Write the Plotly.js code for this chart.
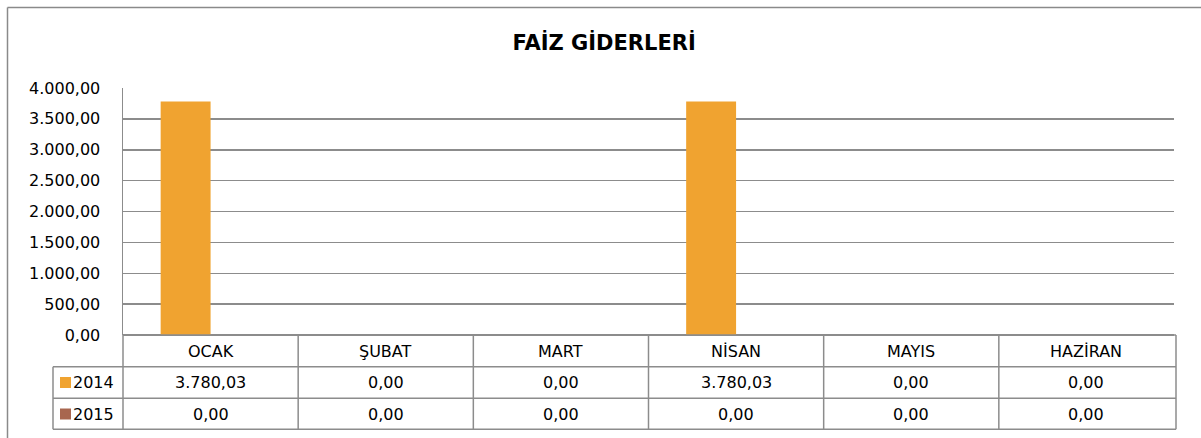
<!DOCTYPE html>
<html><head><meta charset="utf-8">
<script src="https://cdn.plot.ly/plotly-3.0.1.min.js"></script>
<style>html,body{margin:0;padding:0;background:#fff;}#chart{width:1201px;height:438px;}</style>
</head><body><div id="chart"></div>
<script>
const categories = ["OCAK", "ŞUBAT", "MART", "NİSAN", "MAYIS", "HAZİRAN"];
const seriesNames = ["2014", "2015"];
const values2014 = [3780.03, 0, 0, 3780.03, 0, 0];
const values2015 = [0, 0, 0, 0, 0, 0];
const colors = ["#F0A330", "#A8664F"];
const titleText = "FAİZ GİDERLERİ";

function fmt(v) {
  const parts = v.toFixed(2).split(".");
  parts[0] = parts[0].replace(/\B(?=(\d{3})+(?!\d))/g, ".");
  return parts[0] + "," + parts[1];
}

const W = 1201, H = 438, L = 123, R = 1174, T = 88, B = 335;
const xp = px => (px - L) / (R - L);
const yp = py => (B - py) / (B - T);
const gridCol = "#8c8c8c";
const font = "DejaVu Sans, Verdana, sans-serif";
const fs = 16;

const traces = [
  {type: "bar", name: seriesNames[0], x: categories, y: values2014, marker: {color: colors[0]}, hoverinfo: "none"},
  {type: "bar", name: seriesNames[1], x: categories, y: values2015, marker: {color: colors[1]}, hoverinfo: "none"}
];

const rowsY = [382.5, 414];
const lines = [366.7, 398.3, 429.3];
const shapes = [];
const annotations = [];

// outer chart border
shapes.push({type: "line", xref: "paper", yref: "paper", x0: xp(7.5), x1: xp(1210), y0: yp(7.5), y1: yp(7.5), line: {color: "#8a8a8a", width: 1.5}});
shapes.push({type: "line", xref: "paper", yref: "paper", x0: xp(7.5), x1: xp(7.5), y0: yp(7.5), y1: yp(450), line: {color: "#8a8a8a", width: 1.5}});

// table horizontal lines
lines.forEach(l => {
  shapes.push({type: "line", xref: "paper", yref: "paper", x0: xp(53), x1: xp(1176), y0: yp(l), y1: yp(l), line: {color: gridCol, width: 1.5}});
});
shapes.push({type: "line", xref: "paper", yref: "paper", x0: xp(123), x1: xp(1176), y0: yp(335), y1: yp(335), line: {color: gridCol, width: 1.5}});
// legend cell left border
shapes.push({type: "line", xref: "paper", yref: "paper", x0: xp(53), x1: xp(53), y0: yp(lines[0]), y1: yp(lines[2]), line: {color: gridCol, width: 1.5}});
// vertical column lines
for (let i = 0; i <= categories.length; i++) {
  if (i === 0 || i === categories.length) {
    const xv = i === 0 ? 0 : xp(1176);
    shapes.push({type: "line", xref: "paper", yref: "paper", x0: xv, x1: xv, y0: yp(335), y1: yp(lines[2]), line: {color: gridCol, width: 1.5}});
  } else {
    shapes.push({type: "line", xref: "x", yref: "paper", x0: i - 0.5, x1: i - 0.5, y0: yp(335), y1: yp(lines[2]), line: {color: gridCol, width: 1.5}});
  }
}

// header
categories.forEach(c => {
  annotations.push({xref: "x", yref: "paper", x: c, y: yp(351), text: c, showarrow: false, font: {family: font, size: fs, color: "#000"}, xanchor: "center", yanchor: "middle"});
});
// rows
[values2014, values2015].forEach((vals, r) => {
  vals.forEach((v, i) => {
    annotations.push({xref: "x", yref: "paper", x: categories[i], y: yp(rowsY[r]), text: fmt(v), showarrow: false, font: {family: font, size: fs, color: "#000"}, xanchor: "center", yanchor: "middle"});
  });
  shapes.push({type: "rect", xref: "paper", yref: "paper", x0: xp(60), x1: xp(71), y0: yp(rowsY[r] - 5.5), y1: yp(rowsY[r] + 5.5), fillcolor: colors[r], line: {width: 0}});
  annotations.push({xref: "paper", yref: "paper", x: xp(71), y: yp(rowsY[r]), text: seriesNames[r], showarrow: false, font: {family: font, size: fs, color: "#000"}, xanchor: "left", yanchor: "middle"});
});

const layout = {
  width: W, height: H,
  margin: {l: L, r: W - R, t: T, b: H - B, pad: 0},
  paper_bgcolor: "#fff", plot_bgcolor: "#fff",
  separators: ",.",
  showlegend: false,
  barmode: "group", bargap: 0.43, bargroupgap: 0,
  title: {text: "<b>" + titleText + "</b>", font: {family: font, size: 21, color: "#000"}, xref: "container", x: 0.503, y: 1 - 43 / H, yref: "container", xanchor: "center", yanchor: "middle"},
  xaxis: {type: "category", range: [-0.5, 5.5], showticklabels: false, showgrid: false, zeroline: false, showline: false, ticks: "", fixedrange: true},
  yaxis: {range: [0, 4000], dtick: 500, tick0: 0, tickformat: ",.2f", showgrid: true, gridcolor: gridCol, gridwidth: 1.5,
          zeroline: true, zerolinecolor: gridCol, zerolinewidth: 1.5, showline: true, linecolor: gridCol, linewidth: 1.5,
          ticks: "", ticklabelstandoff: 18, tickfont: {family: font, size: fs, color: "#000"}, fixedrange: true},
  shapes: shapes,
  annotations: annotations
};

Plotly.newPlot("chart", traces, layout, {staticPlot: true, displayModeBar: false});
</script>
</body></html>
